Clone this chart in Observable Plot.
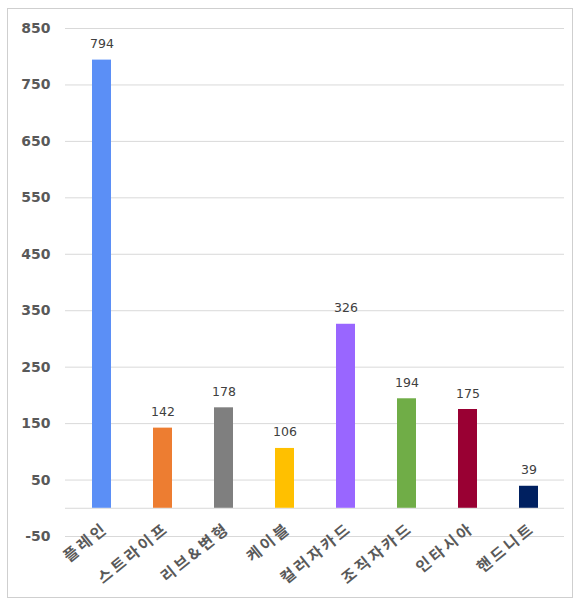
<!DOCTYPE html>
<html>
<head>
<meta charset="utf-8">
<script src="https://cdn.jsdelivr.net/npm/d3@7"></script>
<script src="https://cdn.jsdelivr.net/npm/@observablehq/plot@0.6"></script>
<style>
  html, body { margin: 0; padding: 0; background: #fff; }
  #wrap { position: relative; width: 578px; height: 602px; }
  #border { position: absolute; left: 7px; top: 8px; width: 566px; height: 590px;
            border: 1.5px solid #cfcfcf; box-sizing: border-box; pointer-events: none; }
</style>
</head>
<body>
<div id="wrap"><div id="border"></div></div>
<script>
const categories = ["플레인", "스트라이프", "리브&변형", "케이블", "컬러자카드", "조직자카드", "인타시아", "핸드니트"];
const values = [794, 142, 178, 106, 326, 194, 175, 39];
const colors = ["#5b8ff6", "#ed7d31", "#7f7f7f", "#ffc000", "#9966ff", "#70ad47", "#990033", "#002060"];
const yTicks = [-50, 50, 150, 250, 350, 450, 550, 650, 750, 850];
const gridLines = [-50, 0, 50, 150, 250, 350, 450, 550, 650, 750, 850];

const data = categories.map((c, i) => ({category: c, value: values[i], color: colors[i]}));
const krFont = "'Noto Sans CJK KR', 'Noto Sans', sans-serif";
const numFont = "'DejaVu Sans', sans-serif";

const chart = Plot.plot({
  width: 578,
  height: 602,
  marginLeft: 65,
  marginRight: 14,
  marginTop: 28,
  marginBottom: 66,
  style: {fontFamily: numFont, background: "transparent"},
  x: {domain: categories, paddingInner: 0.69, paddingOuter: 0.38, axis: null},
  y: {domain: [-50, 850], ticks: yTicks, axis: null},
  color: {type: "identity"},
  marks: [
    Plot.ruleY(gridLines, {stroke: "#d9d9d9", strokeWidth: 1}),
    Plot.axisY({ticks: yTicks, tickSize: 0, tickPadding: 15, fontSize: 14, fontWeight: "bold",
                fontFamily: numFont, fill: "#595959", label: null, tickFormat: d => String(d)}),
    Plot.barY(data, {x: "category", y: "value", fill: "color"}),
    Plot.text(data, {x: "category", y: "value", text: d => String(d.value), lineAnchor: "middle",
                     dy: -16, fontSize: 12.5, fontFamily: numFont, fill: "#404040"}),
    Plot.text(data, {x: "category", y: () => 0, text: "category", rotate: -39, textAnchor: "end",
                     lineAnchor: "middle", dx: 4, dy: 18, fontSize: 15.5, fontWeight: "bold",
                     fontFamily: krFont, fill: "#595959"})
  ]
});
const textGroups = d3.select(chart).selectAll('g[aria-label="text"]').nodes();
d3.select(textGroups[textGroups.length - 1]).attr("letter-spacing", "3px")
  .selectAll("text").attr("letter-spacing", "3px");
document.getElementById("wrap").prepend(chart);
</script>
</body>
</html>
